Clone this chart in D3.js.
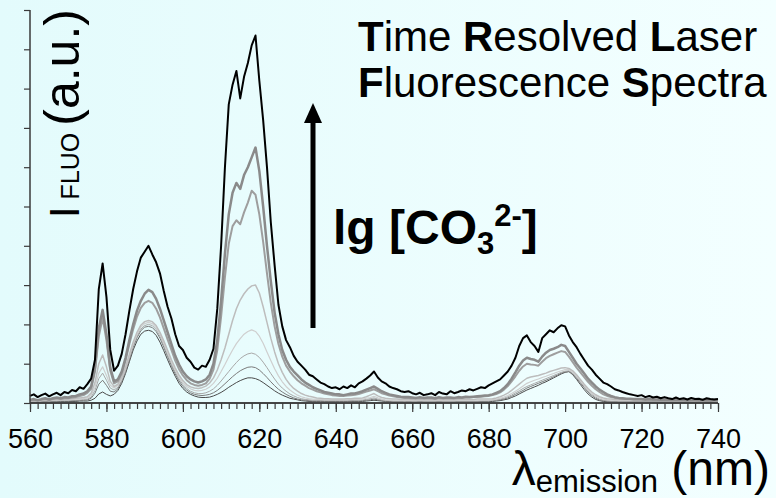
<!DOCTYPE html>
<html><head><meta charset="utf-8">
<script src="https://cdn.jsdelivr.net/npm/d3@7"></script>
<style>html,body{margin:0;padding:0;background:#fff;} svg{display:block;}</style>
</head><body><svg id="c" width="776" height="498"></svg>
<script>
// ---- data (intensity in a.u., one value per nm from 560 to 740 nm) ----
const wavelengths = d3.range(560, 741, 1);
const xTicks = [560, 580, 600, 620, 640, 660, 680, 700, 720, 740];
const yTicks = [0, 1, 2, 3, 4, 5, 6, 7, 8, 9, 10];
const seriesNames = ["c1", "c2", "c3", "c4", "c5", "c6", "c7", "c8"];

const c1 = [0.02,0.03,0.02,0.03,0.03,0.03,0.03,0.03,0.04,0.04,
0.04,0.04,0.04,0.05,0.05,0.05,0.07,0.12,0.23,0.28,
0.22,0.18,0.22,0.32,0.50,0.75,1.05,1.35,1.58,1.75,
1.83,1.85,1.82,1.72,1.55,1.33,1.10,0.88,0.68,0.50,
0.37,0.28,0.22,0.18,0.15,0.14,0.14,0.15,0.18,0.22,
0.27,0.33,0.40,0.46,0.52,0.57,0.61,0.64,0.64,0.62,
0.58,0.52,0.45,0.38,0.31,0.25,0.20,0.16,0.12,0.10,
0.08,0.06,0.05,0.04,0.04,0.04,0.04,0.04,0.04,0.04,
0.04,0.04,0.04,0.04,0.04,0.04,0.04,0.04,0.05,0.06,
0.07,0.06,0.05,0.04,0.04,0.03,0.03,0.03,0.03,0.03,
0.03,0.03,0.03,0.03,0.03,0.03,0.03,0.03,0.03,0.03,
0.03,0.03,0.03,0.03,0.03,0.03,0.03,0.03,0.03,0.03,
0.03,0.04,0.05,0.06,0.08,0.10,0.14,0.18,0.23,0.28,
0.33,0.37,0.41,0.45,0.50,0.54,0.59,0.64,0.69,0.74,
0.78,0.80,0.72,0.60,0.47,0.34,0.23,0.15,0.09,0.06,
0.04,0.03,0.03,0.03,0.03,0.03,0.03,0.03,0.03,0.03,
0.03,0.03,0.03,0.03,0.03,0.03,0.03,0.03,0.03,0.03,
0.03,0.03,0.03,0.03,0.03,0.03,0.03,0.03,0.03,0.03,
0.03];
const c2 = [0.03,0.04,0.03,0.04,0.04,0.04,0.05,0.05,0.05,0.05,
0.05,0.06,0.06,0.06,0.07,0.08,0.12,0.25,0.48,0.58,
0.45,0.30,0.28,0.36,0.55,0.80,1.10,1.42,1.66,1.84,
1.93,1.95,1.92,1.82,1.65,1.42,1.18,0.95,0.74,0.56,
0.42,0.33,0.26,0.22,0.20,0.19,0.20,0.22,0.26,0.32,
0.40,0.49,0.58,0.67,0.75,0.82,0.87,0.91,0.92,0.90,
0.84,0.75,0.65,0.54,0.44,0.35,0.28,0.22,0.17,0.13,
0.10,0.08,0.07,0.06,0.05,0.05,0.05,0.05,0.05,0.05,
0.05,0.05,0.05,0.05,0.05,0.05,0.05,0.06,0.07,0.08,
0.10,0.08,0.06,0.05,0.05,0.04,0.04,0.04,0.04,0.04,
0.04,0.04,0.04,0.04,0.04,0.04,0.04,0.04,0.04,0.04,
0.04,0.04,0.04,0.04,0.04,0.04,0.04,0.04,0.04,0.04,
0.05,0.06,0.07,0.08,0.10,0.13,0.17,0.22,0.27,0.32,
0.38,0.42,0.46,0.50,0.54,0.58,0.62,0.67,0.71,0.76,
0.79,0.80,0.74,0.63,0.51,0.39,0.28,0.19,0.12,0.08,
0.06,0.05,0.04,0.04,0.04,0.04,0.04,0.04,0.04,0.04,
0.04,0.04,0.04,0.04,0.04,0.04,0.04,0.04,0.04,0.04,
0.04,0.04,0.04,0.04,0.04,0.04,0.04,0.04,0.04,0.04,
0.04];
const c3 = [0.04,0.05,0.04,0.05,0.05,0.05,0.06,0.06,0.06,0.07,
0.07,0.07,0.08,0.08,0.09,0.10,0.15,0.32,0.62,0.76,
0.58,0.38,0.33,0.40,0.58,0.84,1.15,1.46,1.70,1.88,
1.97,2.00,1.97,1.87,1.70,1.47,1.23,1.00,0.79,0.61,
0.47,0.37,0.30,0.26,0.24,0.24,0.26,0.30,0.36,0.45,
0.56,0.68,0.80,0.92,1.03,1.13,1.20,1.25,1.27,1.24,
1.16,1.04,0.90,0.75,0.61,0.48,0.38,0.30,0.23,0.18,
0.14,0.11,0.09,0.08,0.07,0.07,0.06,0.06,0.06,0.06,
0.06,0.06,0.06,0.06,0.06,0.07,0.07,0.08,0.09,0.11,
0.13,0.10,0.08,0.06,0.06,0.05,0.05,0.05,0.05,0.05,
0.05,0.05,0.05,0.05,0.05,0.05,0.05,0.05,0.05,0.05,
0.05,0.05,0.05,0.05,0.05,0.05,0.05,0.05,0.06,0.06,
0.06,0.07,0.08,0.10,0.12,0.16,0.20,0.26,0.31,0.37,
0.42,0.46,0.50,0.54,0.58,0.62,0.66,0.70,0.74,0.78,
0.81,0.82,0.76,0.66,0.54,0.42,0.31,0.22,0.15,0.10,
0.07,0.06,0.05,0.05,0.05,0.05,0.05,0.05,0.05,0.05,
0.05,0.05,0.05,0.05,0.05,0.05,0.05,0.05,0.05,0.05,
0.05,0.05,0.05,0.05,0.05,0.05,0.05,0.05,0.05,0.05,
0.05];
const c4 = [0.05,0.06,0.05,0.06,0.07,0.06,0.07,0.07,0.08,0.08,
0.08,0.09,0.09,0.10,0.11,0.13,0.20,0.40,0.76,0.92,
0.70,0.45,0.38,0.45,0.62,0.88,1.20,1.50,1.75,1.93,
2.02,2.05,2.02,1.92,1.75,1.52,1.28,1.05,0.84,0.66,
0.52,0.42,0.36,0.32,0.31,0.32,0.35,0.41,0.50,0.63,
0.80,0.98,1.17,1.35,1.51,1.64,1.75,1.82,1.86,1.82,
1.70,1.52,1.30,1.08,0.87,0.69,0.54,0.42,0.33,0.26,
0.20,0.16,0.13,0.11,0.10,0.09,0.09,0.08,0.08,0.08,
0.08,0.08,0.08,0.08,0.09,0.09,0.09,0.10,0.12,0.14,
0.17,0.13,0.10,0.08,0.07,0.07,0.07,0.07,0.06,0.07,
0.06,0.06,0.07,0.06,0.06,0.06,0.06,0.07,0.06,0.06,
0.06,0.06,0.07,0.07,0.07,0.07,0.07,0.07,0.07,0.07,
0.07,0.08,0.10,0.12,0.15,0.19,0.24,0.30,0.36,0.43,
0.50,0.54,0.58,0.61,0.65,0.68,0.72,0.75,0.79,0.82,
0.85,0.85,0.79,0.69,0.57,0.45,0.34,0.25,0.18,0.13,
0.10,0.08,0.07,0.07,0.06,0.06,0.06,0.06,0.06,0.06,
0.06,0.06,0.06,0.06,0.06,0.06,0.06,0.06,0.06,0.06,
0.06,0.06,0.06,0.06,0.06,0.06,0.06,0.06,0.06,0.06,
0.06];
const c5 = [0.06,0.07,0.06,0.07,0.08,0.07,0.08,0.09,0.09,0.10,
0.10,0.11,0.12,0.13,0.14,0.16,0.25,0.52,1.00,1.22,
0.92,0.55,0.42,0.48,0.66,0.92,1.24,1.55,1.80,1.98,
2.07,2.10,2.07,1.97,1.80,1.58,1.34,1.10,0.89,0.71,
0.57,0.47,0.41,0.38,0.37,0.39,0.43,0.51,0.64,0.84,
1.10,1.40,1.75,2.10,2.40,2.62,2.78,2.90,2.98,3.00,
2.80,2.45,2.05,1.65,1.30,1.00,0.78,0.60,0.47,0.37,
0.30,0.24,0.20,0.17,0.15,0.13,0.12,0.11,0.11,0.10,
0.10,0.10,0.10,0.11,0.11,0.12,0.12,0.13,0.16,0.20,
0.24,0.18,0.14,0.12,0.11,0.10,0.10,0.09,0.09,0.09,
0.09,0.08,0.09,0.08,0.08,0.08,0.08,0.09,0.08,0.08,
0.08,0.08,0.09,0.09,0.09,0.09,0.09,0.10,0.10,0.10,
0.10,0.11,0.13,0.16,0.20,0.25,0.32,0.40,0.48,0.56,
0.63,0.66,0.68,0.70,0.73,0.76,0.80,0.83,0.86,0.89,
0.90,0.88,0.82,0.72,0.60,0.48,0.37,0.28,0.21,0.16,
0.13,0.11,0.10,0.09,0.09,0.08,0.08,0.08,0.08,0.08,
0.08,0.08,0.08,0.08,0.08,0.08,0.08,0.08,0.08,0.08,
0.07,0.08,0.07,0.08,0.07,0.07,0.08,0.07,0.07,0.07,
0.07];
const c6 = [0.06,0.08,0.06,0.08,0.10,0.08,0.10,0.12,0.10,0.12,
0.12,0.14,0.15,0.18,0.20,0.26,0.36,0.80,1.70,2.16,
1.60,0.82,0.50,0.55,0.75,1.08,1.50,1.88,2.20,2.42,
2.55,2.60,2.55,2.40,2.18,1.90,1.62,1.35,1.08,0.86,
0.70,0.58,0.50,0.46,0.44,0.46,0.50,0.62,0.85,1.35,
2.20,3.20,4.05,4.50,4.65,4.55,4.85,5.10,5.40,5.30,
4.80,4.10,3.30,2.55,1.95,1.50,1.18,0.95,0.80,0.68,
0.58,0.50,0.44,0.38,0.34,0.30,0.27,0.24,0.22,0.20,
0.19,0.18,0.18,0.19,0.20,0.21,0.23,0.26,0.29,0.32,
0.35,0.30,0.25,0.22,0.19,0.17,0.15,0.14,0.13,0.13,
0.12,0.12,0.13,0.12,0.12,0.12,0.11,0.13,0.12,0.12,
0.12,0.12,0.13,0.13,0.14,0.14,0.15,0.15,0.16,0.17,
0.18,0.20,0.23,0.27,0.34,0.43,0.55,0.68,0.82,0.93,
1.00,0.98,0.97,0.95,1.05,1.14,1.20,1.24,1.28,1.32,
1.30,1.18,1.04,0.90,0.78,0.66,0.54,0.44,0.35,0.28,
0.22,0.18,0.15,0.13,0.12,0.11,0.10,0.10,0.09,0.09,
0.09,0.08,0.09,0.08,0.08,0.08,0.08,0.07,0.07,0.08,
0.07,0.07,0.07,0.07,0.07,0.07,0.07,0.06,0.07,0.07,
0.07];
const c7 = [0.08,0.10,0.07,0.10,0.12,0.09,0.12,0.14,0.12,0.15,
0.14,0.17,0.18,0.22,0.24,0.30,0.42,0.90,1.90,2.37,
1.75,0.90,0.55,0.60,0.80,1.15,1.60,2.00,2.35,2.60,
2.78,2.88,2.82,2.65,2.40,2.10,1.80,1.50,1.20,0.98,
0.80,0.68,0.60,0.55,0.52,0.55,0.60,0.72,1.00,1.60,
2.60,3.80,4.80,5.35,5.60,5.45,5.80,6.00,6.25,6.50,
5.90,5.00,4.00,3.10,2.30,1.75,1.35,1.10,0.92,0.80,
0.70,0.60,0.52,0.46,0.40,0.36,0.32,0.28,0.26,0.24,
0.22,0.22,0.20,0.22,0.24,0.24,0.27,0.30,0.34,0.38,
0.42,0.36,0.30,0.26,0.22,0.20,0.18,0.16,0.15,0.15,
0.14,0.13,0.15,0.13,0.14,0.14,0.12,0.15,0.13,0.14,
0.14,0.13,0.15,0.14,0.16,0.15,0.16,0.17,0.18,0.19,
0.20,0.22,0.26,0.30,0.38,0.48,0.62,0.78,0.95,1.08,
1.15,1.12,1.10,1.05,1.18,1.28,1.35,1.38,1.42,1.48,
1.45,1.30,1.15,1.00,0.88,0.75,0.62,0.52,0.42,0.34,
0.28,0.22,0.18,0.15,0.13,0.12,0.11,0.11,0.10,0.10,
0.10,0.09,0.10,0.09,0.09,0.08,0.09,0.08,0.08,0.09,
0.08,0.08,0.07,0.08,0.08,0.07,0.08,0.07,0.07,0.08,
0.08];
const c8 = [0.18,0.22,0.15,0.20,0.24,0.17,0.22,0.26,0.20,0.28,
0.25,0.33,0.30,0.40,0.36,0.48,0.62,1.10,2.90,3.55,
2.70,1.35,0.82,0.95,1.25,1.75,2.35,2.90,3.35,3.70,
3.85,4.00,3.78,3.58,3.30,2.85,2.45,2.15,1.75,1.45,
1.35,1.15,1.05,0.90,0.85,0.95,0.92,1.10,1.38,2.40,
4.00,6.00,7.60,8.10,8.45,7.75,8.30,8.65,9.10,9.35,
8.20,7.20,6.00,4.60,3.50,2.50,1.95,1.60,1.42,1.20,
1.05,0.95,0.85,0.72,0.68,0.60,0.52,0.48,0.42,0.38,
0.40,0.35,0.42,0.38,0.45,0.40,0.50,0.55,0.62,0.70,
0.80,0.65,0.55,0.50,0.42,0.38,0.35,0.30,0.28,0.30,
0.25,0.22,0.26,0.20,0.22,0.25,0.20,0.28,0.24,0.22,
0.30,0.25,0.28,0.32,0.30,0.35,0.32,0.36,0.40,0.38,
0.45,0.50,0.55,0.60,0.70,0.80,0.95,1.15,1.45,1.65,
1.72,1.55,1.45,1.30,1.65,1.75,1.85,1.80,1.90,1.98,
1.95,1.72,1.55,1.42,1.25,1.10,0.95,0.85,0.72,0.62,
0.52,0.48,0.42,0.35,0.32,0.28,0.25,0.22,0.20,0.18,
0.20,0.15,0.18,0.14,0.16,0.12,0.15,0.12,0.10,0.14,
0.10,0.12,0.09,0.13,0.10,0.11,0.08,0.12,0.10,0.09,
0.10];

const seriesValues = [c1, c2, c3, c4, c5, c6, c7, c8];
const seriesColors = ["#4a4a4a", "#7a7a7a", "#a8a8a8", "#cfcfcf", "#bdbdbd", "#9e9e9e", "#8a8a8a", "#000000"];
const seriesWidths = [1, 1, 1, 1.2, 1.5, 2, 2.5, 2];

// ---- drawing ----
const svg = d3.select("#c");
const FONT = "'Liberation Sans', Arial, Helvetica, sans-serif";

const defs = svg.append("defs");
const grad = defs.append("linearGradient").attr("id", "bg").attr("x1", "0").attr("x2", "1").attr("y1", "0").attr("y2", "0");
grad.append("stop").attr("offset", "0").attr("stop-color", "#e3fbfc");
grad.append("stop").attr("offset", "1").attr("stop-color", "#f3ffff");
svg.append("rect").attr("width", 776).attr("height", 498).attr("fill", "url(#bg)");

const x = d3.scaleLinear().domain([560, 740]).range([30, 718]);
const y = d3.scaleLinear().domain([0, 10]).range([403, 10]);

const line = d3.line().x((d, i) => x(wavelengths[i])).y(d => y(d));

const g = svg.append("g");
seriesValues.forEach((vals, k) => {
  g.append("path")
    .datum(vals)
    .attr("d", line)
    .attr("fill", "none")
    .attr("stroke", seriesColors[k])
    .attr("stroke-width", seriesWidths[k])
    .attr("stroke-linejoin", "round");
});

// x axis: minor ticks every 2 nm
const xMinor = d3.axisBottom(x).tickValues(d3.range(560, 741, 2)).tickSize(6).tickFormat("");
const xMajor = d3.axisBottom(x).tickValues(xTicks).tickSize(9).tickPadding(17).tickFormat(d3.format("d"));
const gxm = svg.append("g").attr("transform", "translate(0,403)").call(xMinor);
const gx = svg.append("g").attr("transform", "translate(0,403)").call(xMajor);
[gxm, gx].forEach(a => {
  a.select(".domain").attr("stroke", "#3a3a3a").attr("stroke-width", 1.5).attr("d", "M30,0H718");
  a.selectAll(".tick line").attr("stroke", "#3a3a3a").attr("stroke-width", 1.2);
});
gx.selectAll(".tick text").attr("font-family", FONT).attr("font-size", 27).attr("fill", "#000");

const gy = svg.append("g").attr("transform", "translate(30,0)")
  .call(d3.axisLeft(y).tickValues(yTicks).tickSize(6).tickFormat(""));
gy.select(".domain").attr("stroke", "#3a3a3a").attr("stroke-width", 1.5).attr("d", "M0,403V10");
gy.selectAll(".tick line").attr("stroke", "#3a3a3a").attr("stroke-width", 1.2);

// y label (rotated)
const yl = svg.append("text").attr("transform", "translate(79,218) rotate(-90)")
  .attr("font-family", FONT).attr("fill", "#000");
yl.append("tspan").attr("font-size", 42).text("I");
yl.append("tspan").attr("font-size", 25).text(" FLUO ");
yl.append("tspan").attr("font-size", 50).text("(a.u.)");

// x label
const xl = svg.append("text").attr("x", 770).attr("y", 485).attr("text-anchor", "end")
  .attr("font-family", FONT).attr("fill", "#000");
xl.append("tspan").attr("font-size", 48).text("λ");
xl.append("tspan").attr("font-size", 31).attr("dy", 7).text("emission");
xl.append("tspan").attr("font-size", 48).attr("dy", -7).text(" (nm)");

// title
const t1 = svg.append("text").attr("x", 358).attr("y", 51).attr("font-family", FONT).attr("font-size", 42).attr("fill", "#000");
t1.append("tspan").attr("font-weight", "bold").text("T");
t1.append("tspan").text("ime ");
t1.append("tspan").attr("font-weight", "bold").text("R");
t1.append("tspan").text("esolved ");
t1.append("tspan").attr("font-weight", "bold").text("L");
t1.append("tspan").text("aser");
const t2 = svg.append("text").attr("x", 358).attr("y", 97).attr("font-family", FONT).attr("font-size", 42).attr("fill", "#000");
t2.append("tspan").attr("font-weight", "bold").text("F");
t2.append("tspan").text("luorescence ");
t2.append("tspan").attr("font-weight", "bold").text("S");
t2.append("tspan").text("pectra");

// arrow
svg.append("line").attr("x1", 313).attr("x2", 313).attr("y1", 328).attr("y2", 118)
  .attr("stroke", "#000").attr("stroke-width", 5);
svg.append("path").attr("d", "M313,103L322,123H304Z").attr("fill", "#000");

// lg [CO3 2-]
const lg = svg.append("text").attr("x", 333).attr("y", 244).attr("font-family", FONT)
  .attr("font-weight", "bold").attr("font-size", 48).attr("fill", "#000");
lg.append("tspan").text("lg [CO");
lg.append("tspan").attr("font-size", 31).attr("dy", 10).text("3");
lg.append("tspan").attr("font-size", 31).attr("dy", -28).text("2-");
lg.append("tspan").attr("dy", 18).text("]");
</script></body></html>
